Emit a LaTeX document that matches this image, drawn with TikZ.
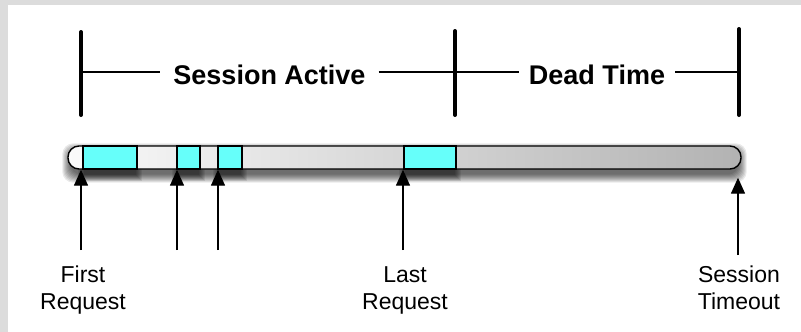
\documentclass[tikz,border=0pt]{standalone}
\usepackage{fontspec}
\setmainfont{Liberation Sans}
\usetikzlibrary{arrows.meta,calc}
\definecolor{framegray}{HTML}{DCDCDC}
\definecolor{reqcyan}{HTML}{66FFFA}
\pgfdeclarelayer{back}
\pgfdeclarelayer{shade}
\pgfsetlayers{back,shade,main}
\begin{document}
\begin{tikzpicture}[x=1pt,y=-1pt,
  tickbar/.style={line width=4pt, line cap=round},
  span/.style={line width=1.4pt},
  bigtitle/.style={font=\fontsize{27}{32}\selectfont\bfseries, inner ysep=0pt, anchor=base},
  lab/.style={font=\fontsize{23}{27}\selectfont, align=center, anchor=north, inner sep=0pt},
  barbox/.style={draw, line width=1.4pt, rounded corners=11pt, left color=white!98!black, right color=black!30, minimum width=673pt, minimum height=23pt, inner sep=0pt},
  reqbox/.style={draw, line width=1.4pt, fill=reqcyan, minimum height=23pt, inner sep=0pt},
  reqarrow/.style={line width=1.4pt, -{Triangle[length=16pt,width=14pt]}},
  softshade/.style={fill=black, opacity=0.085},
]
\useasboundingbox (0,0) rectangle (801,332);
\begin{pgfonlayer}{back}
\fill[framegray] (0,0) rectangle (801,332);
\fill[white] (7.5,5) rectangle (801,332);
\end{pgfonlayer}

% ticks
\coordinate (T1a) at (81,32);  \coordinate (T1b) at (81,115);
\coordinate (T2a) at (455,31); \coordinate (T2b) at (455,115);
\coordinate (T3a) at (739,29); \coordinate (T3b) at (739,115);
\draw[tickbar] (T1a) -- (T1b);
\draw[tickbar] (T2a) -- (T2b);
\draw[tickbar] (T3a) -- (T3b);
\coordinate (H1) at (81,72);
\coordinate (H2) at (455,72);
\coordinate (H3) at (739,72);

\node[bigtitle, inner xsep=13pt] (sa) at (269.5,84.5) {Session Active};
\node[bigtitle, inner xsep=10pt] (dt) at (597,84.5) {Dead Time};
\draw[span] (H1) -- (H1 -| sa.west);
\draw[span] (sa.east |- H1) -- (H2);
\draw[span] (H2) -- (H2 -| dt.west);
\draw[span] (dt.east |- H2) -- (H3);

% timeline bar
\node[barbox] (bar) at (404.5,157.5) {};
\node[reqbox, minimum width=54pt] (r1) at (110,157.5) {};
\node[reqbox, minimum width=23pt] (r2) at (188.5,157.5) {};
\node[reqbox, minimum width=24pt] (r3) at (230,157.5) {};
\node[reqbox, minimum width=52pt] (r4) at (430,157.5) {};

\begin{pgfonlayer}{shade}
\foreach \i in {0,...,8}{
  \fill[softshade, rounded corners=11pt]
    ($(bar.north west)+(3-\i,6-\i)$) rectangle ($(bar.south east)+(\i-3,5+\i)$);
}
\foreach \r in {r1,r2,r3,r4}{
  \foreach \i in {0,...,6}{
    \fill[softshade]
      ($(\r.north west)+(2-\i,8-\i)$) rectangle ($(\r.south east)+(\i-2,5+\i)$);
  }
}
\end{pgfonlayer}

% arrows and labels
\coordinate (A1) at (81,250);
\coordinate (A2) at (177,250);
\coordinate (A3) at (218,250);
\coordinate (A4) at (403,250);
\coordinate (A5) at (738,255);
\draw[reqarrow] (A1) -- (A1 |- bar.south);
\draw[reqarrow] (A2) -- (A2 |- bar.south);
\draw[reqarrow] (A3) -- (A3 |- bar.south);
\draw[reqarrow] (A4) -- (A4 |- bar.south);
\draw[reqarrow, shorten >=8pt] (A5) -- (A5 |- bar.south);

\node[lab] (l1) at (83,266) {First\\Request};
\node[lab] (l4) at (405,266) {Last\\Request};
\node[lab] (l5) at (739,266) {Session\\Timeout};
\end{tikzpicture}
\end{document}
